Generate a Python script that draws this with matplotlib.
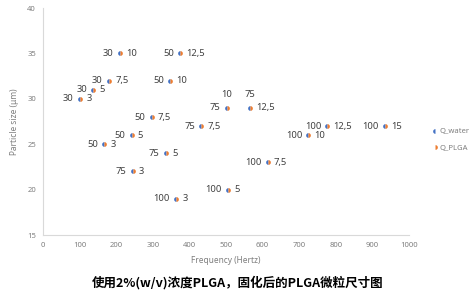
import matplotlib.pyplot as plt
from matplotlib.lines import Line2D

plt.rcParams['font.family'] = ['Noto Sans', 'DejaVu Sans']

# frequency (Hz), particle size (um), Q_water label, Q_PLGA label
freq = [210, 375, 180, 348, 137, 101, 502, 566, 297, 433,
        242, 167, 777, 933, 725, 336, 245, 364, 506, 614]
size = [35, 35, 32, 32, 31, 30, 29, 29, 28, 27,
        26, 25, 27, 27, 26, 24, 22, 19, 20, 23]
q_water = ['30', '50', '30', '50', '30', '30', '75', '75', '50', '75',
           '50', '50', '100', '100', '100', '75', '75', '100', '100', '100']
q_plga = ['10', '12,5', '7,5', '10', '5', '3', '10', '12,5', '7,5', '7,5',
          '5', '3', '12,5', '15', '10', '5', '3', '3', '5', '7,5']

blue = '#4472C4'
orange = '#ED7D31'
gray = '#7f7f7f'

fig = plt.figure(figsize=(4.76, 2.99), dpi=100)
ax = fig.add_axes([0.0903, 0.214, 0.769, 0.759])

ax.plot(freq, size, ls='none', marker='o', ms=3.4, fillstyle='left',
        markerfacecolor=blue, markerfacecoloralt='none', markeredgewidth=0)
ax.plot(freq, size, ls='none', marker='o', ms=3.4, fillstyle='right',
        markerfacecolor=orange, markerfacecoloralt='none', markeredgewidth=0)

lab_kw = dict(textcoords='offset points', fontsize=6.8, color='#404040', va='center')
for i in range(len(freq)):
    xy = (freq[i], size[i])
    if i == 6:
        # labels moved by hand to avoid overlap
        ax.annotate(q_water[i], xy, xytext=(-4.5, 0), ha='right', **lab_kw)
        ax.annotate(q_plga[i], xy, xytext=(0, 9.5), ha='center', **lab_kw)
    elif i == 7:
        ax.annotate(q_water[i], xy, xytext=(0, 9.5), ha='center', **lab_kw)
        ax.annotate(q_plga[i], xy, xytext=(4.5, 0), ha='left', **lab_kw)
    else:
        ax.annotate(q_water[i], xy, xytext=(-4.5, 0), ha='right', **lab_kw)
        ax.annotate(q_plga[i], xy, xytext=(4.5, 0), ha='left', **lab_kw)

ax.set_xlim(0, 1000)
ax.set_ylim(15, 40)
ax.set_xticks(range(0, 1001, 100))
ax.set_yticks(range(15, 41, 5))
ax.tick_params(length=0, labelsize=5.5, labelcolor=gray, pad=5)
for s in ['top', 'right']:
    ax.spines[s].set_visible(False)
for s in ['left', 'bottom']:
    ax.spines[s].set_color('#d9d9d9')
    ax.spines[s].set_linewidth(0.8)

ax.set_xlabel('Frequency (Hertz)', fontsize=6, color=gray, labelpad=5)
ax.set_ylabel('Particle size (\u03bcm)', fontsize=6, color=gray, labelpad=6)

handles = [
    Line2D([], [], ls='none', marker='o', ms=3.4, fillstyle='left',
           markerfacecolor=blue, markerfacecoloralt='none', markeredgewidth=0),
    Line2D([], [], ls='none', marker='o', ms=3.4, fillstyle='right',
           markerfacecolor=orange, markerfacecoloralt='none', markeredgewidth=0),
]
fig.legend(handles, ['Q_water', 'Q_PLGA'], loc='upper left',
           bbox_to_anchor=(0.895, 0.595), frameon=False, fontsize=5.5,
           labelcolor=gray, handlelength=0.6, handletextpad=0.3,
           labelspacing=1.2)

fig.text(0.5, 0.055, '使用2%(w/v)浓度PLGA，固化后的PLGA微粒尺寸图',
         ha='center', va='center', fontsize=9, fontweight='bold',
         family=['Noto Sans CJK SC', 'DejaVu Sans'])

fig.savefig('out.png', dpi=100)
